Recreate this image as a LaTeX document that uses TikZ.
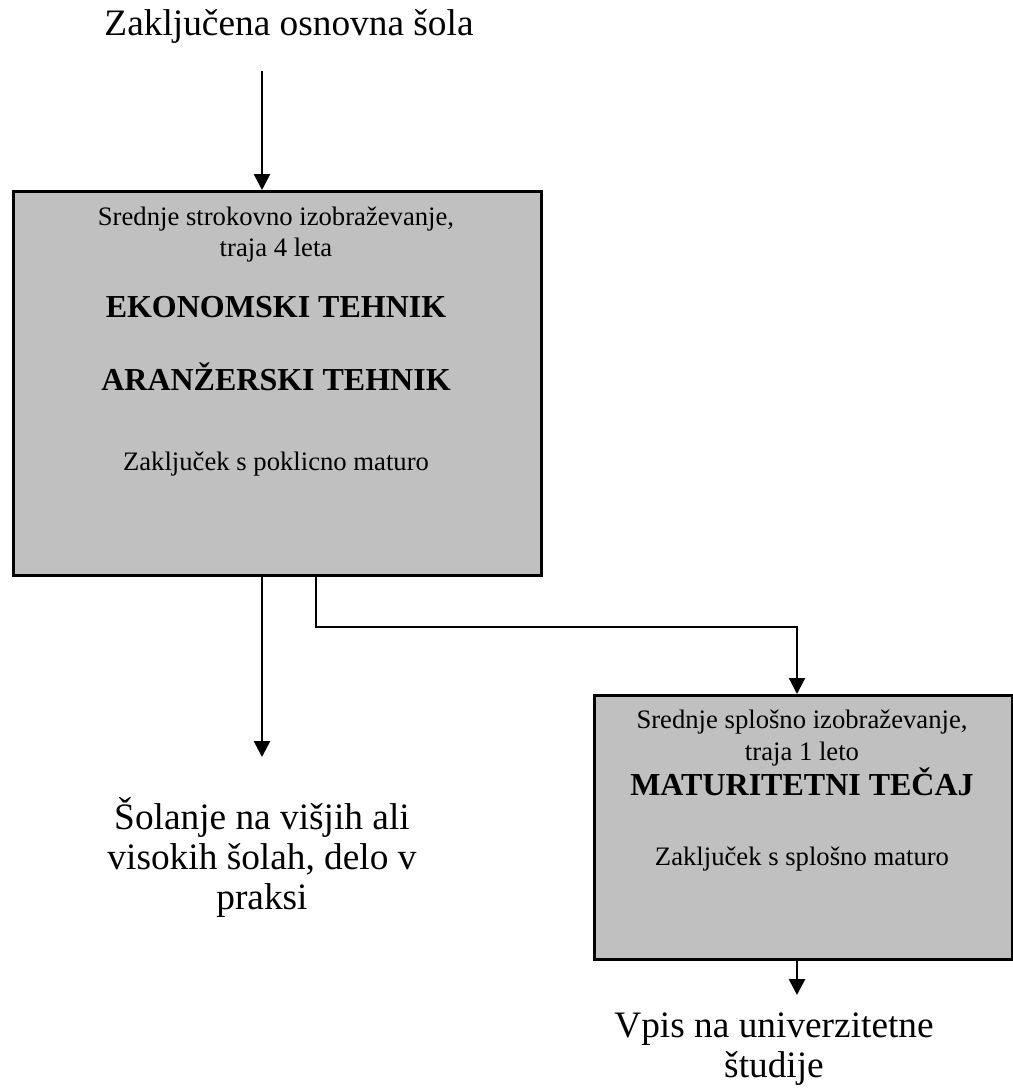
\documentclass[tikz,border=0pt]{standalone}
\usepackage{fontspec}
\setmainfont{Liberation Serif}
\usetikzlibrary{arrows.meta}
\definecolor{boxgray}{HTML}{C0C0C0}
\begin{document}
\begin{tikzpicture}[x=0.75pt,y=-0.75pt,
  box/.style={draw=black,line width=2pt,fill=boxgray,inner sep=0pt,anchor=north west},
  small/.style={font=\fontsize{20}{23.25}\selectfont,align=center,inner sep=0pt,anchor=base},
  bigbold/.style={font=\fontsize{24}{28}\selectfont\bfseries,inner sep=0pt,anchor=base},
  large/.style={font=\fontsize{28}{30}\selectfont,align=center,inner sep=0pt,anchor=base},
  arr/.style={line width=2pt,-{Triangle[length=12pt,width=12pt]}},
  elbow/.style={line width=1.6pt,-{Triangle[length=12pt,width=12pt]}},
]
\useasboundingbox (0,0) rectangle (1013,1092);
\fill[white] (0,0) rectangle (1013,1092);

% boxes
\node[box,minimum width=396pt,minimum height=288pt] (box1) at (12,190) {};
\node[box,minimum width=313.5pt,minimum height=198pt] (box2) at (593,694) {};

% title
\node[large] (start) at (289,35) {Zaključena osnovna šola};

% box 1 texts (anchor base = last line)
\node[small] (b1a) at (276,256) {Srednje strokovno izobraževanje,\\traja 4 leta};
\node[bigbold] (b1b) at (276,317) {EKONOMSKI TEHNIK};
\node[bigbold] (b1c) at (276,390) {ARANŽERSKI TEHNIK};
\node[small] (b1d) at (276,470) {Zaključek s poklicno maturo};

% box 2 texts
\node[small,font=\fontsize{20}{24}\selectfont] (b2a) at (802,760) {Srednje splošno izobraževanje,\\traja 1 leto};
\node[bigbold] (b2b) at (802,795) {MATURITETNI TEČAJ};
\node[small] (b2c) at (802,865) {Zaključek s splošno maturo};

% outcomes
\node[large] (out1) at (262,909) {Šolanje na višjih ali\\visokih šolah, delo v\\praksi};
\node[large] (out2) at (774,1077) {Vpis na univerzitetne\\študije};

% connectors
\coordinate (c0) at (262,71);
\coordinate (c1) at (262,757);
\coordinate (e) at (316,627);
\coordinate (f) at (797,627);
\coordinate (g) at (797,995);
\draw[arr] (c0) -- (c0 |- box1.north);
\draw[arr] (box1.south -| c1) -- (c1);
\draw[elbow] (box1.south -| e) -- (e) -- (f) -- (box2.north -| f);
\draw[arr] (box2.south -| g) -- (g);
\end{tikzpicture}
\end{document}
